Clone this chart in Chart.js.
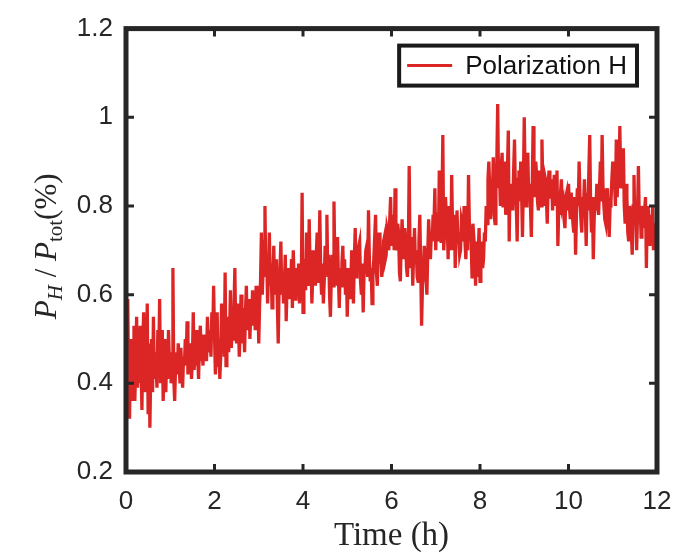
<!DOCTYPE html>
<html>
<head>
<meta charset="utf-8">
<script src="https://cdn.jsdelivr.net/npm/chart.js@4/dist/chart.umd.min.js"></script>
<style>
  html, body { margin: 0; padding: 0; background: #fff; }
  canvas { display: block; }
</style>
</head>
<body>
<canvas id="polar-chart" width="691" height="554"></canvas>
<script>
// readings, 50 samples per hour (every 0.02 h)
var hour0 = [0.35, 0.44, 0.59, 0.38, 0.32, 0.47, 0.50, 0.36, 0.41, 0.53,
             0.36, 0.45, 0.55, 0.39, 0.48, 0.40, 0.53, 0.44, 0.34, 0.50,
             0.56, 0.38, 0.46, 0.42, 0.58, 0.33, 0.49, 0.30, 0.44, 0.50,
             0.38, 0.55, 0.41, 0.47, 0.44, 0.39, 0.52, 0.45, 0.59, 0.40,
             0.46, 0.52, 0.36, 0.44, 0.50, 0.38, 0.47, 0.41, 0.52, 0.45];
var hour1 = [0.47, 0.40, 0.43, 0.66, 0.41, 0.36, 0.44, 0.47, 0.42, 0.49,
             0.45, 0.40, 0.48, 0.43, 0.39, 0.46, 0.44, 0.50, 0.45, 0.54,
             0.42, 0.47, 0.44, 0.49, 0.41, 0.45, 0.56, 0.43, 0.48, 0.44,
             0.52, 0.46, 0.41, 0.49, 0.53, 0.45, 0.48, 0.44, 0.51, 0.47,
             0.50, 0.45, 0.55, 0.49, 0.47, 0.52, 0.46, 0.56, 0.50, 0.62];
var hour2 = [0.51, 0.42, 0.47, 0.56, 0.44, 0.50, 0.41, 0.46, 0.58, 0.48,
             0.52, 0.46, 0.65, 0.44, 0.49, 0.55, 0.47, 0.51, 0.61, 0.48,
             0.53, 0.50, 0.57, 0.66, 0.51, 0.49, 0.58, 0.54, 0.46, 0.52,
             0.60, 0.49, 0.57, 0.53, 0.47, 0.56, 0.62, 0.52, 0.55, 0.59,
             0.50, 0.56, 0.53, 0.61, 0.55, 0.58, 0.52, 0.62, 0.57, 0.59];
var hour3 = [0.49, 0.58, 0.63, 0.74, 0.60, 0.66, 0.72, 0.80, 0.64, 0.69,
             0.58, 0.65, 0.74, 0.62, 0.67, 0.57, 0.64, 0.71, 0.60, 0.66,
             0.68, 0.58, 0.49, 0.62, 0.66, 0.72, 0.60, 0.65, 0.58, 0.63,
             0.69, 0.54, 0.62, 0.66, 0.59, 0.64, 0.61, 0.68, 0.57, 0.70,
             0.63, 0.59, 0.66, 0.62, 0.60, 0.67, 0.58, 0.64, 0.61, 0.83];
var hour4 = [0.56, 0.64, 0.68, 0.61, 0.74, 0.65, 0.62, 0.77, 0.66, 0.70,
             0.58, 0.64, 0.70, 0.66, 0.62, 0.69, 0.74, 0.63, 0.68, 0.79,
             0.65, 0.60, 0.67, 0.58, 0.63, 0.71, 0.66, 0.78, 0.64, 0.69,
             0.60, 0.55, 0.64, 0.69, 0.62, 0.81, 0.67, 0.62, 0.70, 0.73,
             0.64, 0.57, 0.66, 0.62, 0.67, 0.71, 0.63, 0.68, 0.60, 0.66];
var hour5 = [0.55, 0.63, 0.66, 0.59, 0.62, 0.70, 0.64, 0.58, 0.68, 0.75,
             0.64, 0.69, 0.66, 0.71, 0.72, 0.63, 0.60, 0.67, 0.56, 0.65,
             0.66, 0.70, 0.71, 0.64, 0.79, 0.68, 0.63, 0.66, 0.58, 0.64,
             0.68, 0.73, 0.78, 0.65, 0.62, 0.70, 0.74, 0.67, 0.70, 0.64,
             0.66, 0.72, 0.73, 0.68, 0.69, 0.75, 0.74, 0.70, 0.77, 0.82];
var hour6 = [0.71, 0.76, 0.78, 0.70, 0.84, 0.73, 0.70, 0.76, 0.74, 0.65,
             0.63, 0.72, 0.77, 0.70, 0.68, 0.75, 0.72, 0.66, 0.64, 0.70,
             0.89, 0.68, 0.66, 0.73, 0.62, 0.69, 0.75, 0.67, 0.70, 0.64,
             0.63, 0.72, 0.78, 0.66, 0.53, 0.62, 0.65, 0.71, 0.69, 0.64,
             0.60, 0.70, 0.77, 0.72, 0.68, 0.74, 0.72, 0.78, 0.76, 0.84];
var hour7 = [0.70, 0.77, 0.76, 0.72, 0.88, 0.74, 0.72, 0.80, 0.96, 0.70,
             0.74, 0.82, 0.78, 0.76, 0.68, 0.80, 0.74, 0.70, 0.87, 0.75,
             0.70, 0.78, 0.66, 0.74, 0.79, 0.72, 0.74, 0.69, 0.70, 0.77,
             0.76, 0.72, 0.80, 0.72, 0.68, 0.74, 0.70, 0.87, 0.76, 0.74,
             0.72, 0.64, 0.76, 0.73, 0.70, 0.62, 0.72, 0.64, 0.70, 0.75];
var hour8 = [0.63, 0.70, 0.72, 0.66, 0.68, 0.74, 0.72, 0.80, 0.76, 0.86,
             0.90, 0.84, 0.77, 0.86, 0.82, 0.91, 0.78, 0.76, 0.85, 0.90,
             1.03, 0.84, 0.88, 0.80, 0.89, 0.92, 0.80, 0.86, 0.90, 0.78,
             0.83, 0.88, 0.97, 0.72, 0.85, 0.80, 0.84, 0.79, 0.88, 0.95,
             0.83, 0.80, 0.72, 0.86, 0.88, 0.81, 0.90, 0.83, 0.73, 0.85];
var hour9 = [1.00, 0.86, 0.80, 0.88, 0.92, 0.82, 0.85, 0.80, 0.73, 0.84,
             0.98, 0.86, 0.82, 0.90, 0.87, 0.81, 0.79, 0.88, 0.84, 0.80,
             0.95, 0.84, 0.80, 0.87, 0.86, 0.82, 0.76, 0.85, 0.88, 0.82,
             0.82, 0.86, 0.79, 0.84, 0.87, 0.80, 0.84, 0.88, 0.71, 0.80,
             0.78, 0.83, 0.86, 0.80, 0.81, 0.77, 0.75, 0.82, 0.83, 0.79];
var hour10 = [0.85, 0.80, 0.77, 0.83, 0.80, 0.76, 0.74, 0.82, 0.69, 0.78,
              0.84, 0.80, 0.90, 0.82, 0.77, 0.74, 0.82, 0.80, 0.86, 0.79,
              0.71, 0.83, 0.79, 0.88, 0.96, 0.80, 0.74, 0.82, 0.68, 0.77,
              0.82, 0.79, 0.85, 0.80, 0.78, 0.84, 0.90, 0.81, 0.96, 0.84,
              0.80, 0.77, 0.76, 0.82, 0.84, 0.78, 0.73, 0.80, 0.81, 0.86];
var hour11 = [0.90, 0.84, 0.86, 0.80, 0.95, 0.82, 0.88, 0.84, 0.98, 0.86,
              0.84, 0.90, 0.93, 0.80, 0.76, 0.85, 0.82, 0.74, 0.72, 0.80,
              0.78, 0.74, 0.69, 0.80, 0.87, 0.76, 0.79, 0.70, 0.78, 0.89,
              0.77, 0.80, 0.73, 0.78, 0.80, 0.75, 0.79, 0.82, 0.66, 0.78,
              0.80, 0.74, 0.71, 0.78, 0.74, 0.80, 0.70, 0.76, 0.72, 0.71];
var lastValue = [0.70];

var sampleStep = 0.02; // hours between samples
var xTicks = [0, 2, 4, 6, 8, 10, 12];
var yTicks = [0.2, 0.4, 0.6, 0.8, 1, 1.2];

var polarH = [].concat(hour0, hour1, hour2, hour3, hour4, hour5, hour6,
                       hour7, hour8, hour9, hour10, hour11, lastValue);
var points = polarH.map(function(v, i) {
    return { x: Math.round(i * sampleStep * 100) / 100, y: v };
});

var lineRed = '#dc2626';
var frameColor = '#262626';

// frame, inward ticks, titles and the boxed legend, MATLAB style
var matlabLook = {
    id: 'matlabLook',
    afterDraw: function(chart) {
        var c = chart.ctx;
        var a = chart.chartArea;
        var xs = chart.scales.x, ys = chart.scales.y;
        c.save();

        // tick marks pointing inward on all four sides
        c.strokeStyle = frameColor;
        c.lineWidth = 3;
        xTicks.forEach(function(t) {
            var px = xs.getPixelForValue(t);
            c.beginPath();
            c.moveTo(px, a.bottom); c.lineTo(px, a.bottom - 8);
            c.moveTo(px, a.top); c.lineTo(px, a.top + 8);
            c.stroke();
        });
        yTicks.forEach(function(t) {
            var py = ys.getPixelForValue(t);
            c.beginPath();
            c.moveTo(a.left, py); c.lineTo(a.left + 8, py);
            c.moveTo(a.right, py); c.lineTo(a.right - 8, py);
            c.stroke();
        });

        // box
        c.lineWidth = 5;
        c.strokeRect(a.left, a.top, a.right - a.left, a.bottom - a.top);

        // x title
        c.fillStyle = '#262626';
        c.font = '33px "Liberation Serif"';
        c.textAlign = 'center';
        c.textBaseline = 'middle';
        c.fillText('Time (h)', (a.left + a.right) / 2, 536);

        // y title: P_H / P_tot (%)
        c.translate(45, (a.top + a.bottom) / 2 - 4);
        c.rotate(-Math.PI / 2);
        var parts = [
            { t: 'P', f: 'italic 31px "Liberation Serif"', dy: 0 },
            { t: 'H', f: 'italic 21px "Liberation Serif"', dy: 6 },
            { t: ' / ', f: '31px "Liberation Serif"', dy: 0 },
            { t: 'P', f: 'italic 31px "Liberation Serif"', dy: 0 },
            { t: 'tot', f: '21px "Liberation Serif"', dy: 6 },
            { t: '(%)', f: '31px "Liberation Serif"', dy: 0 }
        ];
        var total = 0;
        parts.forEach(function(p) { c.font = p.f; p.w = c.measureText(p.t).width; total += p.w; });
        var cx = -total / 2;
        c.textAlign = 'left';
        c.textBaseline = 'alphabetic';
        parts.forEach(function(p) {
            c.font = p.f;
            c.fillText(p.t, cx, 11 + p.dy);
            cx += p.w;
        });
        c.restore();

        // legend
        c.save();
        var ds = chart.data.datasets[0];
        c.font = '26px "Liberation Sans"';
        var tw = c.measureText(ds.label).width;
        var boxH = 40;
        var boxW = 8 + 45 + 13 + tw + 10;
        var bx = a.right - 20 - boxW, by = a.top + 17;
        c.fillStyle = '#fff';
        c.fillRect(bx, by, boxW, boxH);
        c.strokeStyle = '#1a1a1a';
        c.lineWidth = 4;
        c.strokeRect(bx, by, boxW, boxH);
        c.strokeStyle = ds.borderColor;
        c.lineWidth = 3;
        c.beginPath();
        c.moveTo(bx + 8, by + boxH / 2);
        c.lineTo(bx + 53, by + boxH / 2);
        c.stroke();
        c.fillStyle = '#111';
        c.textBaseline = 'middle';
        c.textAlign = 'left';
        c.fillText(ds.label, bx + 66, by + boxH / 2 + 1);
        c.restore();
    }
};

function tickText(v) {
    return String(Math.round(v * 10) / 10);
}

var ctx = document.getElementById('polar-chart').getContext('2d');
var polarChart = new Chart(ctx, {
    type: 'line',
    data: {
        datasets: [{
            label: 'Polarization H',
            data: points,
            borderColor: lineRed,
            borderWidth: 3.3,
            pointRadius: 0,
            tension: 0,
            fill: false
        }]
    },
    options: {
        responsive: false,
        animation: false,
        devicePixelRatio: 1,
        layout: { padding: { left: 0, right: 34, top: 16, bottom: 0 } },
        plugins: {
            legend: { display: false },
            tooltip: { enabled: false }
        },
        scales: {
            x: {
                type: 'linear',
                min: 0,
                max: 12,
                grid: { display: false, drawTicks: false },
                border: { display: false },
                afterFit: function(scale) { scale.height = 82; },
                afterBuildTicks: function(scale) {
                    scale.ticks = xTicks.map(function(v) { return { value: v }; });
                },
                ticks: {
                    padding: 14,
                    color: '#262626',
                    font: { family: 'Liberation Sans', size: 26 },
                    maxRotation: 0,
                    callback: tickText
                }
            },
            y: {
                min: 0.2,
                max: 1.2,
                grid: { display: false, drawTicks: false },
                border: { display: false },
                afterFit: function(scale) { scale.width = 126; },
                afterBuildTicks: function(scale) {
                    scale.ticks = yTicks.map(function(v) { return { value: v }; });
                },
                ticks: {
                    padding: 13,
                    color: '#262626',
                    font: { family: 'Liberation Sans', size: 26 },
                    callback: tickText
                }
            }
        }
    },
    plugins: [matlabLook]
});
</script>
</body>
</html>
